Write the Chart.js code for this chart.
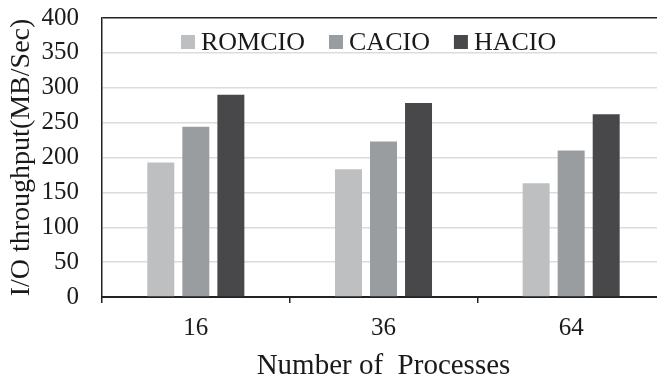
<!DOCTYPE html>
<html lang="en">
<head>
  <meta charset="UTF-8" />
  <title>I/O throughput</title>
  <style>
    body { margin:0; background:#fff; overflow:hidden; }
    #wrap { width:666px; height:377px; }
    canvas { display:block; }
  </style>
</head>
<body>
  <div id="wrap"><canvas id="chart"></canvas></div>
  <script src="https://cdn.jsdelivr.net/npm/chart.js"></script>
  <script>
  // values
  const categories = ['16', '36', '64'];
  const romcio = [193, 183, 163];
  const cacio  = [244, 223, 210];
  const hacio  = [290, 278, 262];
  const yTicks = [0, 50, 100, 150, 200, 250, 300, 350, 400];

  const SERIF = '"Liberation Serif", "Times New Roman", serif';

  // legend drawn inside the plot, top
  const innerLegend = {
    id: 'innerLegend',
    afterDraw(chart) {
      const ctx = chart.ctx, area = chart.chartArea;
      ctx.save();
      ctx.font = '26px ' + SERIF;
      ctx.textBaseline = 'middle';
      let x = area.left + 79;
      const y = 42;
      chart.data.datasets.forEach(ds => {
        ctx.fillStyle = ds.backgroundColor;
        ctx.fillRect(x, y - 7, 14, 14);
        x += 20;
        ctx.fillStyle = '#1a1a1a';
        ctx.fillText(ds.label, x, y + 1);
        x += ctx.measureText(ds.label).width + 24;
      });
      ctx.restore();
    }
  };

  new Chart(document.getElementById('chart'), {
    type: 'bar',
    data: {
      labels: categories,
      datasets: [
        { label: 'ROMCIO', data: romcio, backgroundColor: '#bebfc1' },
        { label: 'CACIO',  data: cacio,  backgroundColor: '#9a9da0' },
        { label: 'HACIO',  data: hacio,  backgroundColor: '#48484a' }
      ]
    },
    options: {
      responsive: true,
      maintainAspectRatio: false,
      animation: false,
      layout: { padding: { left: 5, right: 1, top: 18, bottom: 0 } },
      datasets: { bar: { categoryPercentage: 0.56, barPercentage: 0.77 } },
      plugins: { legend: { display: false }, tooltip: { enabled: false } },
      scales: {
        x: {
          afterFit: s => { s.height = 80; },
          grid: { offset: true, drawOnChartArea: false, drawTicks: true,
                  tickLength: 6, color: '#222', lineWidth: 1.5 },
          border: { color: '#222', width: 2 },
          ticks: { color: '#1a1a1a', padding: 10, font: { family: SERIF, size: 25 } },
          title: { display: true, text: 'Number of  Processes', color: '#1a1a1a',
                   padding: { top: 0, bottom: 0 },
                   font: { family: SERIF, size: 29, lineHeight: 0.75 } }
        },
        y: {
          min: 0, max: 400,
          afterBuildTicks: s => { s.ticks = yTicks.map(v => ({ value: v })); },
          afterFit: s => { s.width = 97; s.paddingTop = 14; s.paddingBottom = 14; },
          grid: { drawTicks: false, lineWidth: 1.5,
                  color: c => c.tick && c.tick.value === 400 ? '#222' : '#dcdcdc' },
          border: { color: '#222', width: 1.5 },
          ticks: { color: '#1a1a1a', padding: 23, font: { family: SERIF, size: 25 } },
          title: { display: true, text: 'I/O throughput(MB/Sec)', color: '#1a1a1a',
                   padding: { top: 3, bottom: 2 },
                   font: { family: SERIF, size: 28, lineHeight: 1.0 } }
        }
      }
    },
    plugins: [innerLegend]
  });
  </script>
</body>
</html>
